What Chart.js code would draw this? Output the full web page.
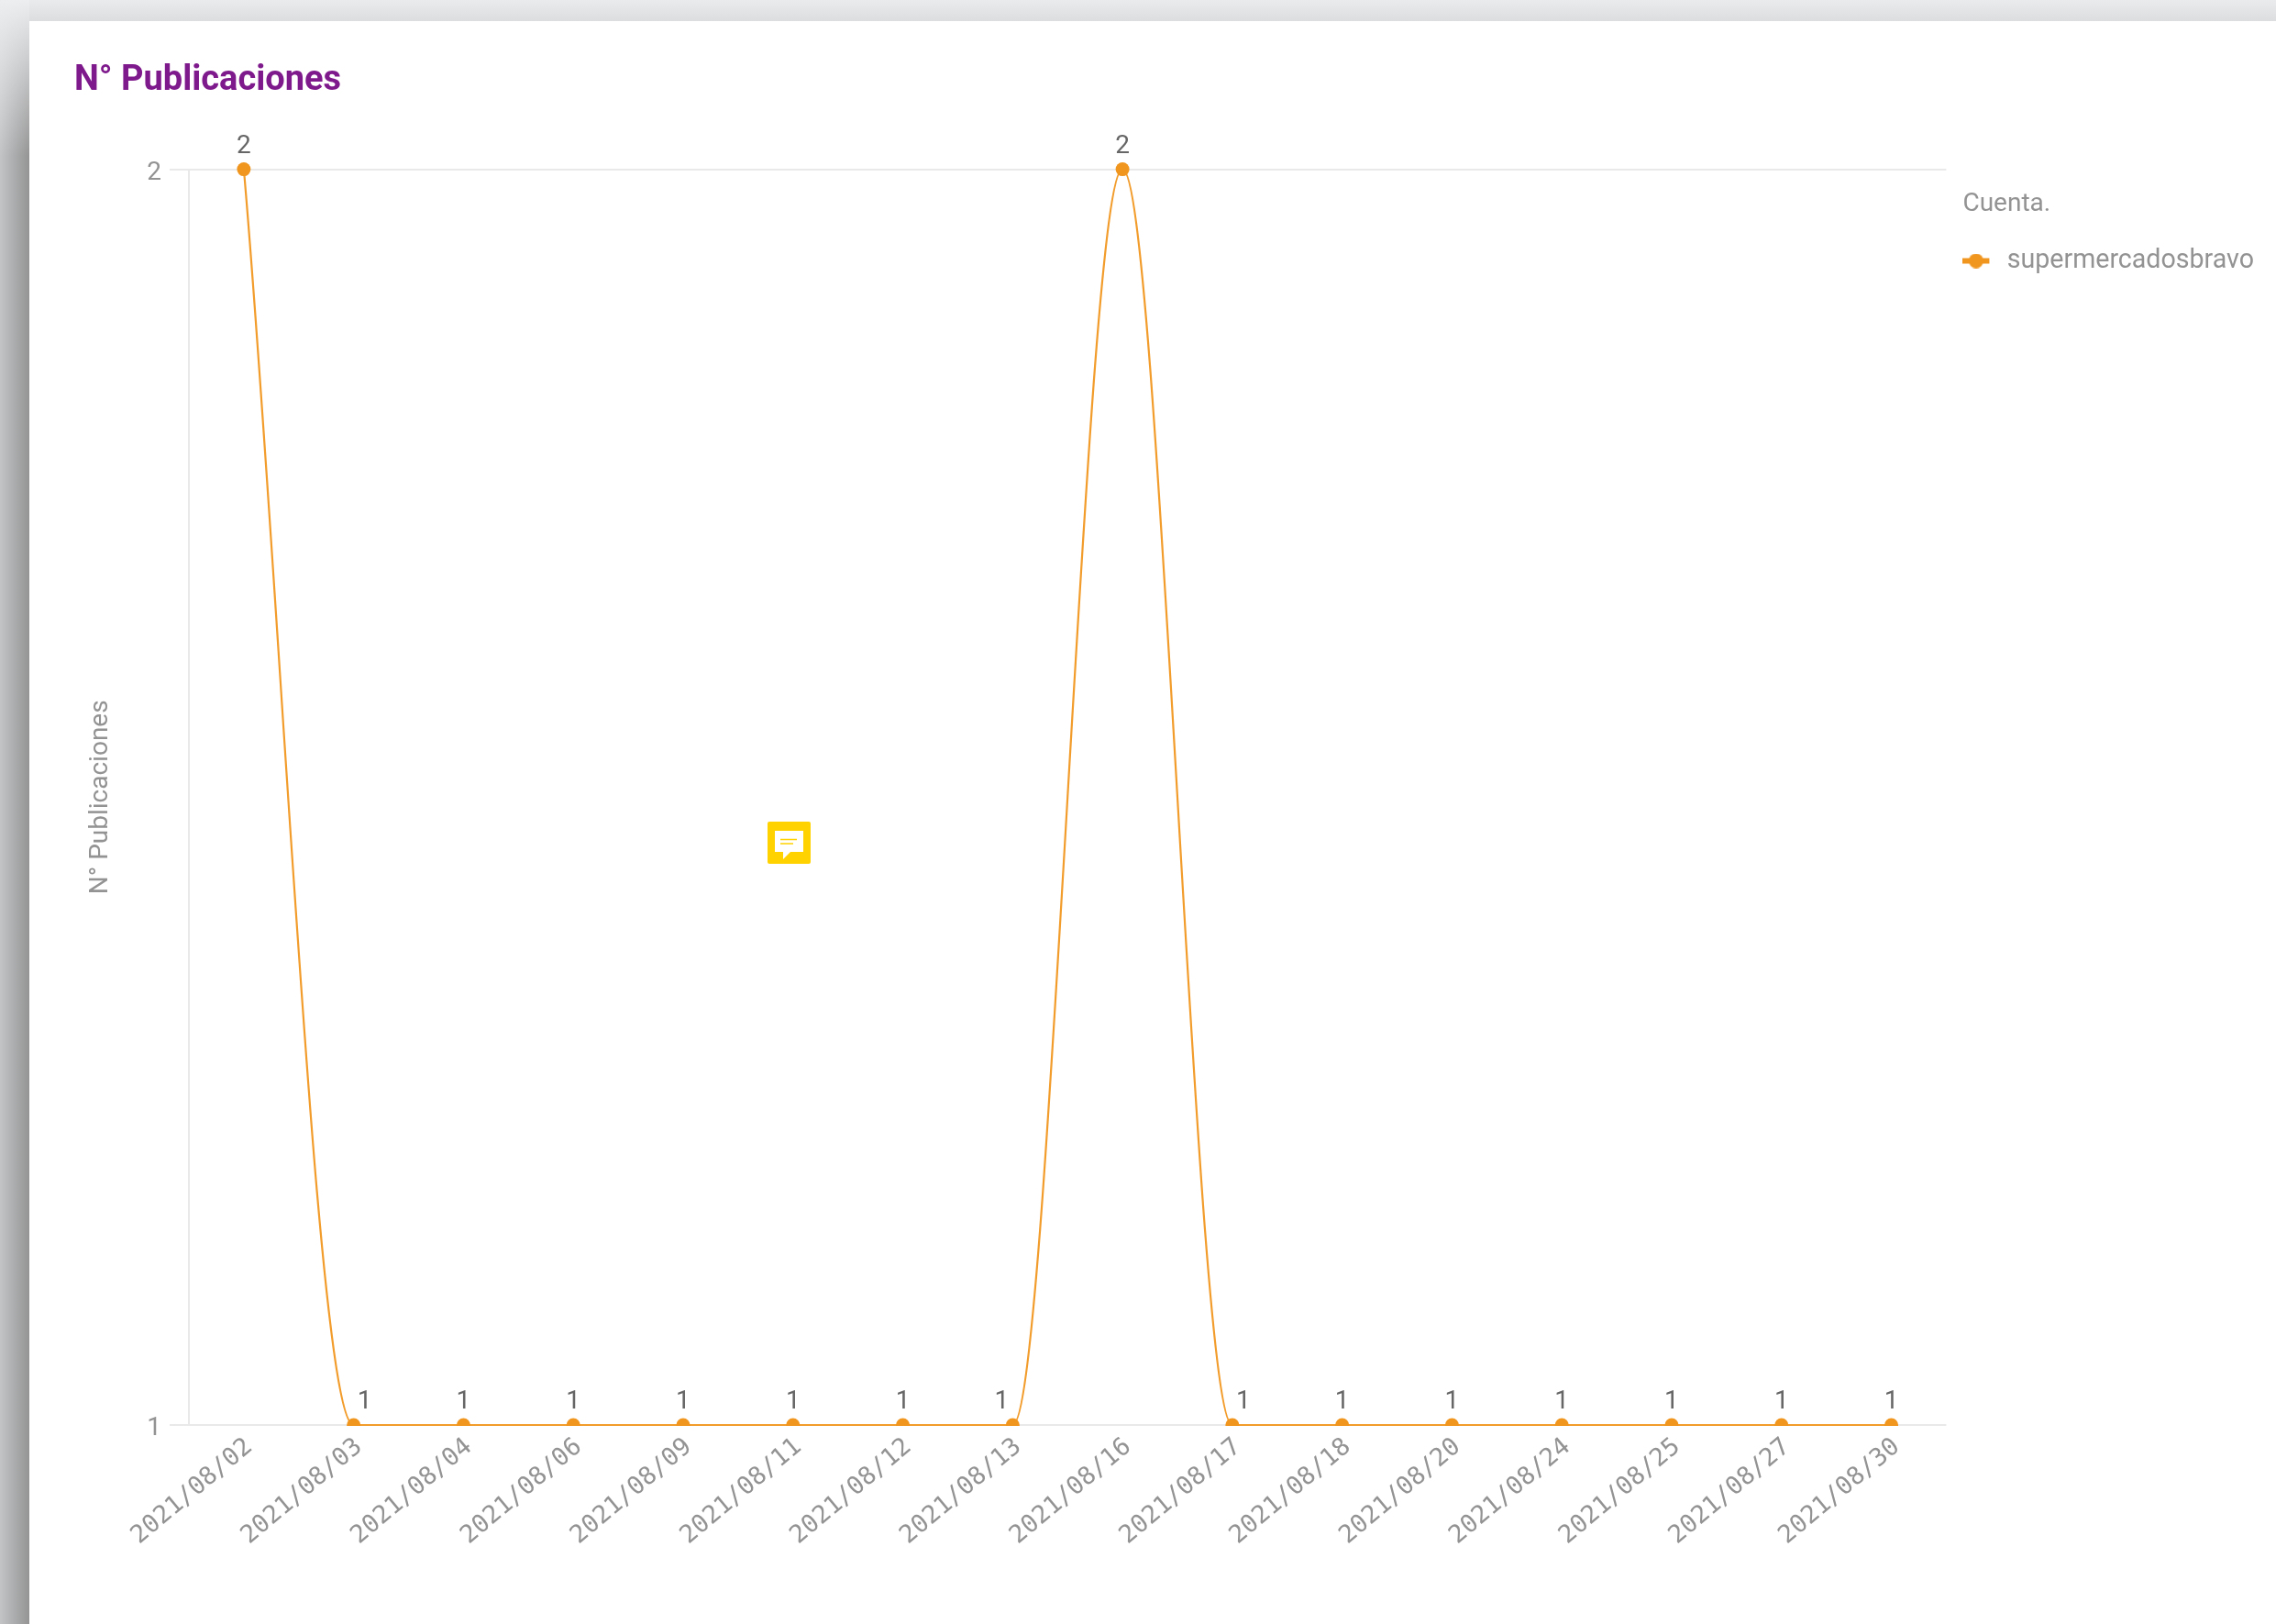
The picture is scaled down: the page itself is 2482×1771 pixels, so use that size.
<!DOCTYPE html>
<html>
<head>
<meta charset="utf-8">
<title>N° Publicaciones</title>
<script src="https://cdn.jsdelivr.net/npm/chart.js@4"></script>
<style>
  html, body { margin: 0; padding: 0; width: 2482px; height: 1771px; overflow: hidden; background: #fff; }
  .topstrip { position: absolute; left: 0; top: 0; width: 2482px; height: 23px; background: linear-gradient(to bottom, #e9ebec, #dcdddf); }
  .leftstrip { position: absolute; left: 0; top: 0; width: 32px; height: 1771px;
    background: linear-gradient(to bottom, #eceef0 0, rgba(236,238,240,0) 170px), linear-gradient(to right, #c2c4c6, #949494); }
  .card { position: absolute; left: 32px; top: 23px; width: 2450px; height: 1748px; background: #fff; }
  .wrap { position: absolute; left: 0; top: 0; width: 2482px; height: 1771px; }
  .note { position: absolute; left: 837px; top: 896px; width: 47px; height: 46px; }
</style>
</head>
<body>
<div class="topstrip"></div>
<div class="leftstrip"></div>
<div class="card"></div>
<div class="wrap"><canvas id="chart" width="2482" height="1771"></canvas></div>
<svg class="note" viewBox="0 0 47 46">
  <rect x="0" y="0" width="47" height="46" rx="2" fill="#ffd200"/>
  <path d="M8 10 H39 V33 H25 L17 41 V33 H8 Z" fill="#fff"/>
  <path d="M14 19.5 H32 M14 24 H28" stroke="#ffd200" stroke-width="1.6" fill="none"/>
</svg>
<script>
const fechas = ["2021/08/02", "2021/08/03", "2021/08/04", "2021/08/06", "2021/08/09", "2021/08/11", "2021/08/12", "2021/08/13",
  "2021/08/16", "2021/08/17", "2021/08/18", "2021/08/20", "2021/08/24", "2021/08/25", "2021/08/27", "2021/08/30"];
const publicaciones = [2, 1, 1, 1, 1, 1, 1, 1, 2, 1, 1, 1, 1, 1, 1, 1];
const cuenta = "supermercadosbravo";
const tituloLeyenda = "Cuenta.";

const naranja = "#f0951e";
const gris = "#939393";
const fuente = "Roboto";

// little line + dot for the legend
const icono = document.createElement("canvas");
icono.width = 34;
icono.height = 16;
const ic = icono.getContext("2d");
ic.fillStyle = naranja;
ic.fillRect(0, 5, 29, 6);
ic.beginPath();
ic.arc(14.5, 8, 8, 0, Math.PI * 2);
ic.fill();

// value labels over the points, moved aside when the curve would cross them
const etiquetas = {
  id: "etiquetas",
  afterDatasetsDraw(chart) {
    const ctx = chart.ctx;
    const puntos = chart.getDatasetMeta(0).data;
    ctx.save();
    ctx.font = "400 28px " + fuente;
    ctx.fillStyle = "#666666";
    ctx.textAlign = "center";
    ctx.textBaseline = "alphabetic";
    puntos.forEach(function (p, i) {
      let dx = 0;
      if (publicaciones[i - 1] > publicaciones[i]) dx = 12;
      if (publicaciones[i + 1] > publicaciones[i]) dx = -12;
      ctx.fillText(String(publicaciones[i]), p.x + dx, p.y - 18);
    });
    // legend title has to line up with the icon, the library puts it at the box edge
    ctx.font = "400 28px " + fuente;
    ctx.fillStyle = gris;
    ctx.textAlign = "left";
    ctx.textBaseline = "middle";
    ctx.fillText(tituloLeyenda, chart.legend.left + 18, chart.legend.top + 38);
    ctx.restore();
  },
};

new Chart(document.getElementById("chart"), {
  type: "line",
  plugins: [etiquetas],
  data: {
    labels: fechas,
    datasets: [
      {
        label: cuenta,
        data: publicaciones,
        borderColor: "#f29c2c",
        backgroundColor: naranja,
        borderWidth: 2.2,
        pointRadius: 7.5,
        pointBackgroundColor: naranja,
        pointBorderWidth: 0,
        cubicInterpolationMode: "monotone",
        clip: { left: false, top: false, right: false, bottom: 1 },
      },
    ],
  },
  options: {
    responsive: false,
    animation: false,
    layout: { padding: { left: 81, right: 14, top: 66, bottom: 0 } },
    plugins: {
      tooltip: { enabled: false },
      title: {
        display: true,
        text: "N° Publicaciones",
        align: "start",
        color: "#7f1a8c",
        font: { family: fuente, size: 38, weight: "bold" },
        padding: { top: 0, bottom: 73 },
      },
      legend: {
        position: "right",
        align: "start",
        fullSize: false,
        title: {
          display: true,
          text: "",
          font: { family: fuente, size: 28 },
          padding: { top: 24, bottom: 10 },
        },
        labels: {
          color: gris,
          font: { family: fuente, size: 28.6 },
          boxWidth: 34,
          boxHeight: 16,
          pointStyleWidth: 34,
          usePointStyle: true,
          padding: 18,
          generateLabels(chart) {
            return [
              {
                text: cuenta,
                fontColor: gris,
                fillStyle: naranja,
                strokeStyle: naranja,
                lineWidth: 0,
                pointStyle: icono,
                datasetIndex: 0,
              },
            ];
          },
        },
      },
    },
    scales: {
      x: {
        offset: true,
        afterFit(scale) {
          scale.height = 217;
        },
        grid: { display: false },
        border: { display: false },
        ticks: {
          color: gris,
          font: { family: "'DejaVu Sans Mono'", size: 27 },
          minRotation: 40,
          maxRotation: 40,
          autoSkip: false,
          padding: 0,
          labelOffset: 6,
        },
      },
      y: {
        min: 1,
        max: 2,
        afterFit(scale) {
          scale.width = 125;
        },
        grid: { color: "#e9e9e9", lineWidth: 2, tickLength: 21 },
        border: { color: "#e9e9e9", width: 2 },
        ticks: {
          stepSize: 1,
          color: gris,
          font: { family: fuente, size: 28, weight: 400 },
          padding: 9,
          labelOffset: 4,
        },
        title: {
          display: true,
          text: "N° Publicaciones",
          color: gris,
          font: { family: fuente, size: 28 },
          padding: { top: 12, bottom: 0 },
        },
      },
    },
  },
});
</script>
</body>
</html>
